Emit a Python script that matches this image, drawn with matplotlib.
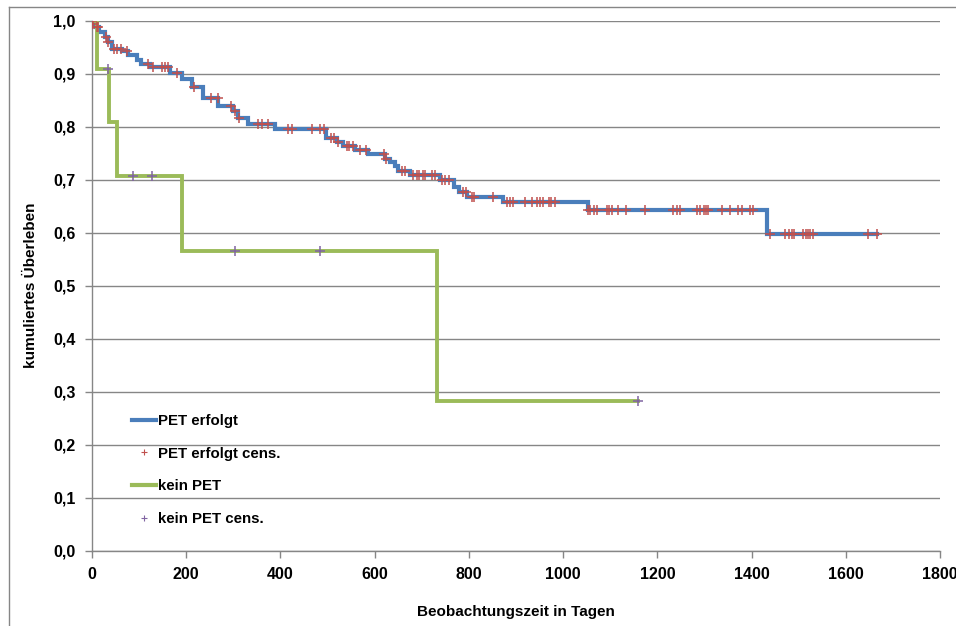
import numpy as np
import matplotlib
matplotlib.use("Agg")
import matplotlib.pyplot as plt
from matplotlib.lines import Line2D

# Kaplan-Meier steps (days, survival after step)
pet_times = [0, 3, 8, 14, 28, 34, 42, 63, 76, 95, 105, 123, 166, 190, 212, 236,
             268, 299, 310, 331, 388, 497, 519, 533, 558, 586, 622, 633, 643,
             650, 675, 739, 768, 780, 795, 872, 1053, 1432]
pet_surv = [1.0, 0.994, 0.988, 0.978, 0.970, 0.959, 0.947, 0.943, 0.936, 0.925,
            0.919, 0.913, 0.902, 0.890, 0.875, 0.855, 0.840, 0.830, 0.817,
            0.806, 0.795, 0.779, 0.771, 0.764, 0.756, 0.748, 0.739, 0.733,
            0.725, 0.717, 0.708, 0.699, 0.687, 0.677, 0.668, 0.657, 0.643, 0.598]
pet_end = 1666
pet_cens = [0, 3, 10, 13, 29, 35, 47, 54, 61, 74, 119, 130, 149, 155, 161, 180,
            217, 253, 267, 294, 303, 312, 352, 360, 373, 415, 425, 468, 485,
            492, 507, 513, 523, 541, 546, 554, 569, 582, 620, 624, 657, 664,
            682, 689, 695, 702, 707, 722, 728, 742, 749, 757, 788, 794, 806,
            810, 851, 880, 887, 894, 919, 935, 944, 950, 957, 970, 975, 982,
            1053, 1058, 1065, 1072, 1094, 1098, 1103, 1117, 1134, 1174, 1234,
            1241, 1248, 1284, 1291, 1298, 1304, 1308, 1337, 1354, 1372, 1379,
            1397, 1403, 1439, 1471, 1480, 1486, 1491, 1509, 1516, 1520, 1525,
            1531, 1648, 1666]

kein_times = [0, 10, 36, 54, 190, 732]
kein_surv = [1.0, 0.909, 0.808, 0.707, 0.566, 0.283]
kein_end = 1159
kein_cens = [34, 88, 127, 303, 484, 1159]


def surv_at(times, surv, t):
    i = np.searchsorted(times, t, side="right") - 1
    return surv[i]


plt.rcParams["font.family"] = ["Liberation Sans", "DejaVu Sans"]
plt.rcParams["font.weight"] = "bold"

fig = plt.figure(figsize=(9.56, 6.26), dpi=100)
ax = fig.add_axes([92 / 956, 75.3 / 626, 848 / 956, 530 / 626])

BLUE = "#4A7EBB"
GREEN = "#9BBB59"
RED = "#C0504D"
PURPLE = "#8064A2"

ax.step(pet_times + [pet_end], pet_surv + [pet_surv[-1]], where="post",
        color=BLUE, lw=3, zorder=3, solid_joinstyle="miter")
ax.step(kein_times + [kein_end], kein_surv + [kein_surv[-1]], where="post",
        color=GREEN, lw=2.8, zorder=3, solid_joinstyle="miter")

py = [surv_at(pet_times, pet_surv, t) for t in pet_cens]
ax.plot(pet_cens, py, ls="none", marker="+", ms=7.5, mew=1.1, color=RED, zorder=4)
ky = [surv_at(kein_times, kein_surv, t) for t in kein_cens]
ax.plot(kein_cens, ky, ls="none", marker="+", ms=7.5, mew=1.1, color=PURPLE, zorder=4)

ax.set_xlim(0, 1800)
ax.set_ylim(0, 1.0)
ax.set_xticks(np.arange(0, 1801, 200))
ax.set_yticks(np.arange(0, 1.01, 0.1))
ax.set_yticklabels([f"{v:.1f}".replace(".", ",") for v in np.arange(0, 1.01, 0.1)])
ax.tick_params(axis="both", labelsize=11.5, color="#868686", length=5, width=1)
ax.tick_params(axis="x", pad=7)
ax.tick_params(axis="y", pad=7)
for lab in ax.get_xticklabels() + ax.get_yticklabels():
    lab.set_fontweight("bold")

ax.grid(axis="y", color="#868686", lw=1)
ax.set_axisbelow(True)
for s in ["top", "right"]:
    ax.spines[s].set_visible(False)
for s in ["left", "bottom"]:
    ax.spines[s].set_color("#868686")
    ax.spines[s].set_linewidth(1)

ax.set_ylabel("kumuliertes Überleben", fontsize=11, fontweight="bold")
ax.set_xlabel("Beobachtungszeit in Tagen", fontsize=11, fontweight="bold")
ax.yaxis.set_label_coords(-0.072, 0.5)
ax.xaxis.set_label_coords(0.5, -0.1157)
ax.xaxis.label.set_va("center")
ax.yaxis.label.set_va("center")

handles = [
    Line2D([], [], color=BLUE, lw=3),
    Line2D([], [], ls="none", marker="+", ms=5, mew=0.8, color=RED),
    Line2D([], [], color=GREEN, lw=3),
    Line2D([], [], ls="none", marker="+", ms=5, mew=0.8, color=PURPLE),
]
labels = ["PET erfolgt", "PET erfolgt cens.", "kein PET", "kein PET cens."]
leg = ax.legend(handles, labels, loc="upper left", bbox_to_anchor=(0.047, 0.258),
                frameon=False, fontsize=10.8, handlelength=1.6, handletextpad=0.15,
                labelspacing=1.25, borderpad=0, borderaxespad=0)
for t in leg.get_texts():
    t.set_fontweight("bold")

# outer chart border (partially visible)
fig.add_artist(Line2D([9 / 956, 9 / 956], [0, 1 - 7 / 626], color="#868686", lw=1,
                      transform=fig.transFigure))
fig.add_artist(Line2D([9 / 956, 1], [1 - 7 / 626, 1 - 7 / 626], color="#868686", lw=1,
                      transform=fig.transFigure))

fig.savefig("out.png", dpi=100)
